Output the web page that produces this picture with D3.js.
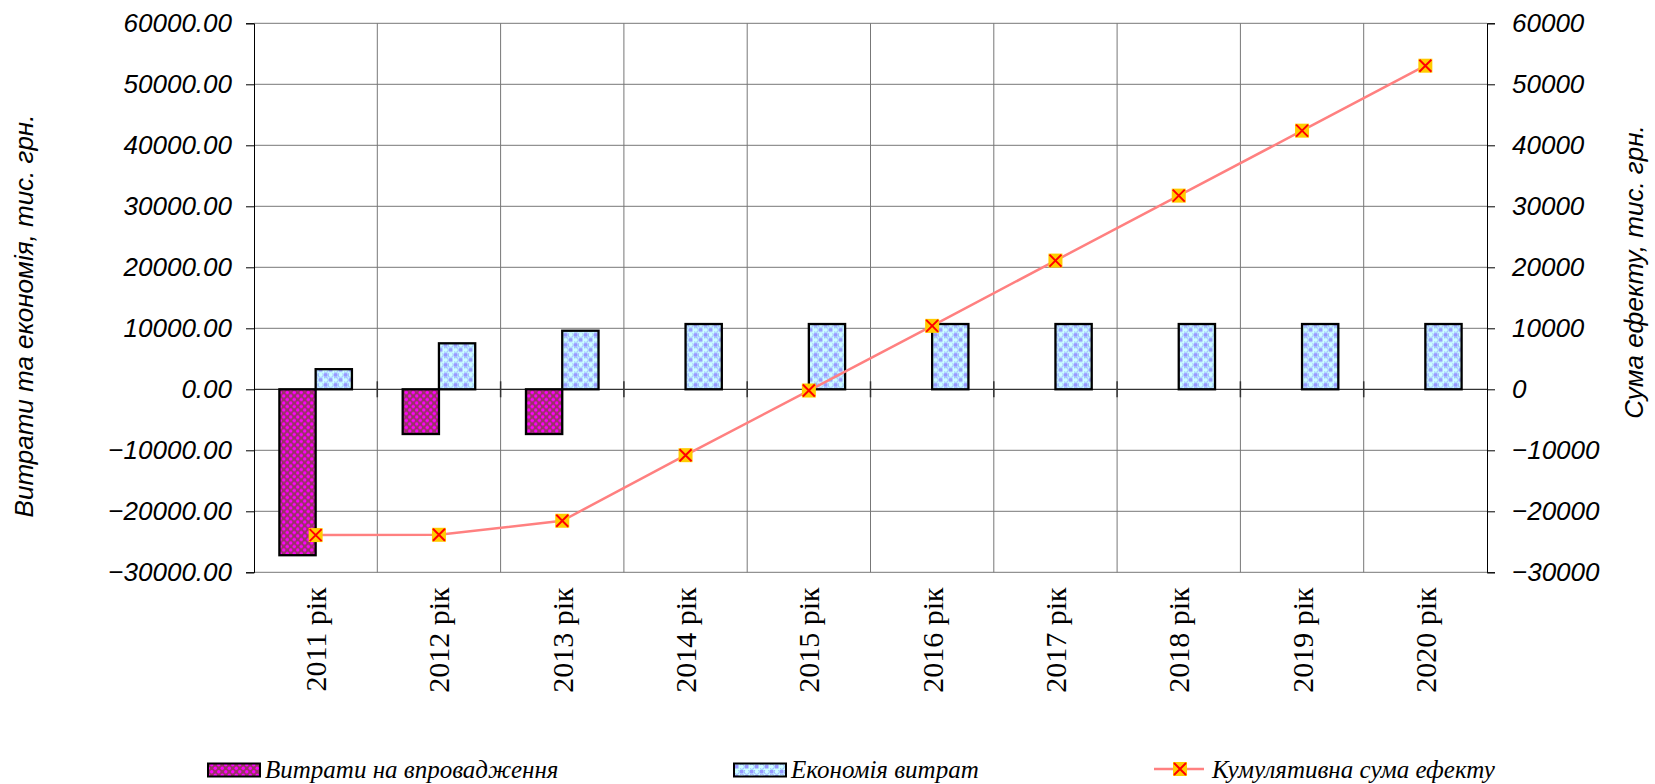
<!DOCTYPE html>
<html>
<head>
<meta charset="utf-8">
<script src="https://cdn.jsdelivr.net/npm/d3@7/dist/d3.min.js"></script>
<style>
    body { margin: 0; background: #fff; }
    .tick text { fill: #000; }
    .ylab { font-family: 'Liberation Sans', Arial, sans-serif; font-style: italic; font-size: 26px; }
    .xlab { font-family: 'Liberation Serif', 'Times New Roman', serif; font-size: 30px; }
    .legend { font-family: 'Liberation Serif', 'Times New Roman', serif; font-style: italic; font-size: 25px; }
</style>
</head>
<body>
<div id="vis"></div>
<script>
// data
var years = ['2011 рік', '2012 рік', '2013 рік', '2014 рік', '2015 рік', '2016 рік', '2017 рік', '2018 рік', '2019 рік', '2020 рік'];
var costs = [-27200, -7330, -7330, null, null, null, null, null, null, null];
var savings = [3300, 7540, 9600, 10700, 10700, 10700, 10700, 10700, 10700, 10700];
var cumulative = [-23900, -23850, -21550, -10800, -200, 10400, 21100, 31750, 42400, 53050];
var leftTicks = [-30000, -20000, -10000, 0, 10000, 20000, 30000, 40000, 50000, 60000];
var rightTicks = leftTicks;

var seriesNames = ['Витрати на впровадження', 'Економія витрат', 'Кумулятивна сума ефекту'];
var leftTitle = 'Витрати та економія, тис. грн.';
var rightTitle = 'Сума ефекту, тис. грн.';

var margin = { left: 254, top: 23.3, right: 168, bottom: 211.7 };
var W = 1655, H = 784;
var width = W - margin.left - margin.right;
var height = H - margin.top - margin.bottom;

var svg = d3.select('#vis')
    .append('svg')
    .attr('width', W)
    .attr('height', H);

/* ****** Patterns ****** */
var defs = svg.append('defs');
var pinkPat = defs.append('pattern')
    .attr('id', 'pinkPat')
    .attr('patternUnits', 'userSpaceOnUse')
    .attr('width', 7).attr('height', 7);
pinkPat.append('rect').attr('width', 7).attr('height', 7).attr('fill', '#993366');
pinkPat.append('circle').attr('cx', 1.75).attr('cy', 1.75).attr('r', 1.7).attr('fill', '#ff00ff');
pinkPat.append('circle').attr('cx', 5.25).attr('cy', 5.25).attr('r', 1.7).attr('fill', '#ff00ff');

var bluePat = defs.append('pattern')
    .attr('id', 'bluePat')
    .attr('patternUnits', 'userSpaceOnUse')
    .attr('width', 10).attr('height', 10);
bluePat.append('rect').attr('width', 10).attr('height', 10).attr('fill', '#ccffff');
bluePat.append('rect').attr('x', 0).attr('y', 0).attr('width', 3.5).attr('height', 3.5).attr('fill', '#9999ff');
bluePat.append('rect').attr('x', 5).attr('y', 5).attr('width', 3.5).attr('height', 3.5).attr('fill', '#9999ff');
bluePat.append('circle').attr('cx', 6.75).attr('cy', 1.75).attr('r', 2.6).attr('fill', 'none').attr('stroke', '#99b3ff').attr('stroke-width', 1);
bluePat.append('circle').attr('cx', 1.75).attr('cy', 6.75).attr('r', 2.6).attr('fill', 'none').attr('stroke', '#99b3ff').attr('stroke-width', 1);

var g = svg.append('g')
    .attr('transform', 'translate(' + margin.left + ',' + margin.top + ')');

/* ****** Scales ****** */
var xScale = d3.scaleBand().domain(years).range([0, width]);
var xSub = d3.scaleBand().domain(['costs', 'savings']).range([0, xScale.bandwidth()]).paddingOuter(0.7);
var yLeft = d3.scaleLinear().domain([-30000, 60000]).range([height, 0]);
var yRight = d3.scaleLinear().domain([-30000, 60000]).range([height, 0]);

/* ****** Grid ****** */
g.append('g')
    .selectAll('line')
    .data(leftTicks)
    .enter()
    .append('line')
    .attr('x1', 0).attr('x2', width)
    .attr('y1', function(d) { return yLeft(d); })
    .attr('y2', function(d) { return yLeft(d); })
    .attr('stroke', function(d) { return d == 0 ? '#000' : '#777'; })
    .attr('stroke-width', 1);

g.append('g')
    .selectAll('line')
    .data(years.slice(1))
    .enter()
    .append('line')
    .attr('x1', function(d) { return xScale(d); })
    .attr('x2', function(d) { return xScale(d); })
    .attr('y1', 0).attr('y2', height)
    .attr('stroke', '#777')
    .attr('stroke-width', 1);

// little category ticks across the zero line
g.append('g')
    .selectAll('line')
    .data(years.slice(1))
    .enter()
    .append('line')
    .attr('x1', function(d) { return xScale(d); })
    .attr('x2', function(d) { return xScale(d); })
    .attr('y1', yLeft(0) - 8).attr('y2', yLeft(0) + 8)
    .attr('stroke', '#333')
    .attr('stroke-width', 1.5);

/* ****** Axes ****** */
var yAxisL = d3.axisLeft(yLeft)
    .tickValues(leftTicks)
    .tickSize(8)
    .tickPadding(14)
    .tickFormat(d3.format('.2f'));
var gl = g.append('g').attr('class', 'ylab').call(yAxisL);
gl.attr('font-size', null).attr('font-family', null);
gl.select('.domain').attr('stroke', '#000');
gl.selectAll('.tick line').attr('stroke', '#000');

var yAxisR = d3.axisRight(yRight)
    .tickValues(rightTicks)
    .tickSize(8)
    .tickPadding(17)
    .tickFormat(d3.format('d'));
var gr = g.append('g').attr('class', 'ylab')
    .attr('transform', 'translate(' + width + ',0)')
    .call(yAxisR);
gr.attr('font-size', null).attr('font-family', null);
gr.select('.domain').attr('stroke', '#000');
gr.selectAll('.tick line').attr('stroke', '#000');

/* ****** X labels ****** */
g.append('g')
    .selectAll('text')
    .data(years)
    .enter()
    .append('text')
    .attr('class', 'xlab')
    .attr('transform', function(d) {
        return 'translate(' + (xScale(d) + xScale.bandwidth() / 2) + ',' + (height + 15) + ') rotate(-90)';
    })
    .attr('text-anchor', 'end')
    .attr('dy', '0.35em')
    .text(function(d) { return d; });

/* ****** Bars ****** */
var rows = years.map(function(y, i) {
    return { year: y, costs: costs[i], savings: savings[i], cum: cumulative[i] };
});

g.append('g')
    .selectAll('rect')
    .data(rows.filter(function(d) { return d.costs != null; }))
    .enter()
    .append('rect')
    .attr('x', function(d) { return xScale(d.year) + xSub('costs'); })
    .attr('width', xSub.bandwidth())
    .attr('y', function(d) { return yLeft(Math.max(0, d.costs)); })
    .attr('height', function(d) { return Math.abs(yLeft(d.costs) - yLeft(0)); })
    .attr('fill', 'url(#pinkPat)')
    .attr('stroke', '#000')
    .attr('stroke-width', 2.3);

g.append('g')
    .selectAll('rect')
    .data(rows)
    .enter()
    .append('rect')
    .attr('x', function(d) { return xScale(d.year) + xSub('savings'); })
    .attr('width', xSub.bandwidth())
    .attr('y', function(d) { return yLeft(Math.max(0, d.savings)); })
    .attr('height', function(d) { return Math.abs(yLeft(d.savings) - yLeft(0)); })
    .attr('fill', 'url(#bluePat)')
    .attr('stroke', '#000')
    .attr('stroke-width', 2.3);

/* ****** Line ****** */
var line = d3.line()
    .x(function(d) { return xScale(d.year) + xScale.bandwidth() / 2; })
    .y(function(d) { return yRight(d.cum); });

g.append('path')
    .datum(rows)
    .attr('d', line)
    .attr('fill', 'none')
    .attr('stroke', '#ff8080')
    .attr('stroke-width', 2.5);

var drawMarker = function(sel) {
    sel.append('rect')
        .attr('x', -7).attr('y', -7)
        .attr('width', 14).attr('height', 14)
        .attr('fill', '#ffcc00');
    sel.append('path')
        .attr('d', 'M-6,-6L6,6M-6,6L6,-6')
        .attr('stroke', '#ff0000')
        .attr('stroke-width', 2);
};

g.append('g')
    .selectAll('g')
    .data(rows)
    .enter()
    .append('g')
    .attr('transform', function(d) {
        return 'translate(' + (xScale(d.year) + xScale.bandwidth() / 2) + ',' + yRight(d.cum) + ')';
    })
    .call(drawMarker);

/* ****** Axis titles ****** */
svg.append('text')
    .attr('class', 'ylab')
    .attr('transform', 'translate(33,316) rotate(-90)')
    .attr('text-anchor', 'middle')
    .text(leftTitle);

svg.append('text')
    .attr('class', 'ylab')
    .attr('transform', 'translate(1643,272) rotate(-90)')
    .attr('text-anchor', 'middle')
    .text(rightTitle);

/* ****** Legend ****** */
var legY = 770;
var leg = svg.append('g').attr('class', 'legend');

leg.append('rect')
    .attr('x', 208).attr('y', legY - 6.5)
    .attr('width', 52).attr('height', 13)
    .attr('fill', 'url(#pinkPat)')
    .attr('stroke', '#000').attr('stroke-width', 2);
leg.append('text').attr('x', 265).attr('y', legY + 8).text(seriesNames[0]);

leg.append('rect')
    .attr('x', 734).attr('y', legY - 6.5)
    .attr('width', 52).attr('height', 13)
    .attr('fill', 'url(#bluePat)')
    .attr('stroke', '#000').attr('stroke-width', 2);
leg.append('text').attr('x', 791).attr('y', legY + 8).text(seriesNames[1]);

leg.append('line')
    .attr('x1', 1154).attr('x2', 1204)
    .attr('y1', legY - 1).attr('y2', legY - 1)
    .attr('stroke', '#ff8080').attr('stroke-width', 2.5);
leg.append('g')
    .attr('transform', 'translate(1180,' + (legY - 1) + ')')
    .call(drawMarker);
leg.append('text').attr('x', 1212).attr('y', legY + 8).text(seriesNames[2]);
</script>
</body>
</html>
